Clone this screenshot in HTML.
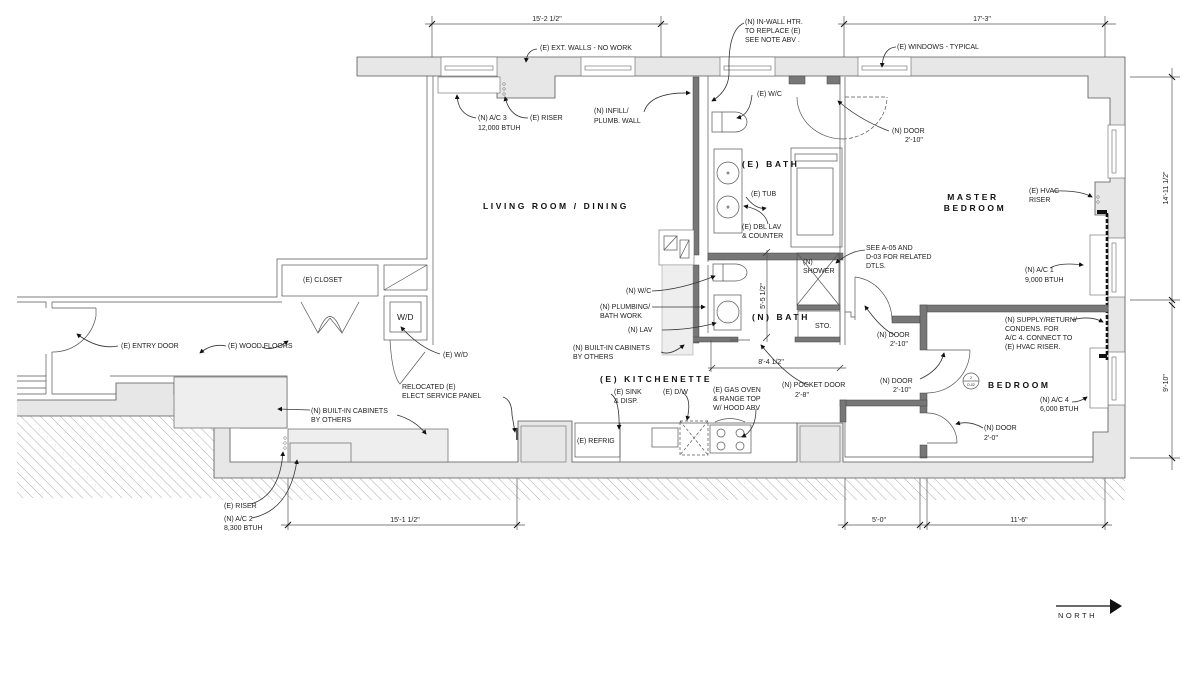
<!DOCTYPE html>
<html><head><meta charset="utf-8"><style>
html,body{margin:0;padding:0;background:#fff;}
svg{display:block;}
text{font-family:"Liberation Sans",sans-serif;font-size:7px;fill:#222;}
.b{font-weight:bold;font-size:8.5px;letter-spacing:2.6px;fill:#111;}
.l{fill:none;stroke:#333;stroke-width:0.8;}
.t{fill:none;stroke:#555;stroke-width:0.7;}
.dk{fill:#777;stroke:#444;stroke-width:0.5;}
.lg{fill:#eee;stroke:#666;stroke-width:0.7;}
</style></head><body>
<svg width="1200" height="674" viewBox="0 0 1200 674" xmlns="http://www.w3.org/2000/svg">
<defs>
<pattern id="h" patternUnits="userSpaceOnUse" width="7" height="7" patternTransform="rotate(-45)">
<line x1="0" y1="0" x2="0" y2="7" stroke="#888" stroke-width="0.7"/></pattern>
<marker id="a" markerWidth="6" markerHeight="6" refX="5" refY="3" orient="auto"><path d="M0,0 L6,3 L0,6z" fill="#111"/></marker>
</defs>

<!-- hatching -->
<rect x="17" y="416" width="197" height="82" fill="url(#h)"/>
<rect x="214" y="478" width="911" height="22" fill="url(#h)"/>

<!-- exterior gray wall -->
<polygon points="357,57 1125,57 1125,478 214,478 214,416 17,416 17,76 357,76" fill="#e7e7e7"/>
<polygon points="17,76 357,76 497,76 497,98 555,98 555,76 1088,76 1088,98 1110,98 1110,182 1095,182 1095,215 1108,215 1108,432 1093,432 1093,462 843,462 843,423 797,423 797,462 572,462 572,421 518,421 518,462 230,462 230,394 174,394 174,383 116,383 116,400 17,400" fill="#fff"/>
<rect x="0" y="0" width="356" height="75.5" fill="#fff"/>
<polyline points="357,76 357,57 1125,57 1125,478 214,478 214,416 17,416" fill="none" stroke="#555" stroke-width="0.8"/>
<polyline points="357,76 497,76 497,98 555,98 555,76 1088,76 1088,98 1110,98 1110,182 1095,182 1095,215 1108,215 1108,432 1093,432 1093,462 843,462 843,423 797,423 797,462 572,462 572,421 518,421 518,462 230,462 230,394 174,394 174,383 116,383 116,400 17,400" fill="none" stroke="#555" stroke-width="0.8"/>
<rect x="521" y="426" width="45" height="36" fill="#e7e7e7" stroke="#666" stroke-width="0.6"/>
<rect x="800" y="426" width="40" height="36" fill="#e7e7e7" stroke="#666" stroke-width="0.6"/>

<!-- windows -->
<g fill="#fff" stroke="#666" stroke-width="0.6">
<rect x="441" y="57" width="56" height="19"/><rect x="445" y="66" width="48" height="4"/>
<rect x="581" y="57" width="54" height="19"/><rect x="585" y="66" width="46" height="4"/>
<rect x="720" y="57" width="55" height="19"/><rect x="724" y="66" width="47" height="4"/>
<rect x="858" y="57" width="53" height="19"/><rect x="862" y="66" width="45" height="4"/>
<rect x="1108" y="125" width="17" height="53"/><rect x="1112" y="130" width="4" height="43"/>
<rect x="1108" y="238" width="17" height="59"/><rect x="1112" y="243" width="4" height="49"/>
<rect x="1108" y="352" width="17" height="53"/><rect x="1112" y="357" width="4" height="43"/>
</g>
<rect x="438" y="77" width="62" height="16" fill="#fff" stroke="#666" stroke-width="0.6"/>
<rect x="1090" y="235" width="18" height="60" fill="#fff" stroke="#666" stroke-width="0.6"/>
<rect x="1090" y="348" width="18" height="60" fill="#fff" stroke="#666" stroke-width="0.6"/>
<g fill="none" stroke="#666" stroke-width="0.5"><circle cx="504" cy="84" r="1.3"/><circle cx="504" cy="89" r="1.3"/><circle cx="504" cy="94" r="1.3"/>
<circle cx="1098" cy="197" r="1.3"/><circle cx="1098" cy="202" r="1.3"/><circle cx="285" cy="438" r="1.3"/><circle cx="285" cy="443" r="1.3"/><circle cx="285" cy="448" r="1.3"/></g>
<line x1="1107" y1="213" x2="1107" y2="360" stroke="#111" stroke-width="2.6" stroke-dasharray="4,2"/>
<rect x="1097" y="210" width="10" height="4" fill="#111"/>
<rect x="1099" y="354" width="8" height="4" fill="#111"/>

<!-- left hall / closet -->
<g class="t">
<polyline points="17,297 277,297 277,259 427,259 427,76"/>
<polyline points="17,302 46,302 46,308"/>
<line x1="52" y1="302" x2="282" y2="302"/>
<line x1="433" y1="76" x2="433" y2="345"/>
<rect x="282" y="265" width="96" height="31"/>
<rect x="384" y="265" width="43" height="25"/><line x1="384" y1="290" x2="427" y2="265"/>
<rect x="384" y="296" width="43" height="44"/><rect x="390" y="302" width="31" height="30"/>
<line x1="46" y1="354" x2="46" y2="394"/>
<line x1="17" y1="376" x2="46" y2="376"/><line x1="17" y1="381" x2="46" y2="381"/>
<line x1="17" y1="388" x2="46" y2="388"/><line x1="17" y1="394" x2="46" y2="394"/>
<line x1="52" y1="308" x2="96" y2="308"/><line x1="96" y1="308" x2="96" y2="316"/>
<path d="M96,316 A44,44 0 0 1 52,352"/>
<line x1="52" y1="302" x2="52" y2="308"/><line x1="52" y1="352" x2="52" y2="394"/>
<line x1="52" y1="394" x2="116" y2="394"/>
<path d="M301,302 L318,333 L330,318 L342,333 L359,302"/>
<path d="M318,333 Q330,300 342,333"/>
<path d="M390,340 Q392,375 400,384 L425,352"/>
<polyline points="110,376 287,376 287,428 240,428 240,420"/>
</g>
<rect x="174" y="377" width="113" height="51" class="lg"/>
<rect x="288" y="429" width="160" height="33" class="lg"/>
<rect x="290" y="443" width="61" height="19" class="lg"/>
<line x1="517" y1="428" x2="517" y2="440" stroke="#555" stroke-width="2"/>

<!-- bath walls -->
<rect x="693" y="77" width="6" height="178" class="dk"/>
<rect x="693" y="265" width="6" height="78" class="dk"/>
<rect x="693" y="337" width="45" height="5" class="dk"/>
<line x1="708" y1="76" x2="708" y2="262" class="t"/>
<rect x="659" y="230" width="35" height="35" fill="#fff" stroke="#666" stroke-width="0.6"/>
<rect x="664" y="236" width="13" height="14" class="t"/><line x1="664" y1="250" x2="677" y2="236" class="t"/>
<rect x="680" y="240" width="9" height="18" class="t"/><line x1="680" y1="258" x2="689" y2="240" class="t"/>
<rect x="662" y="265" width="31" height="90" fill="#eee" stroke="#999" stroke-width="0.5"/>
<line x1="708" y1="265" x2="708" y2="333" class="t"/>
<rect x="708" y="253" width="135" height="7" class="dk"/>
<line x1="840" y1="77" x2="840" y2="345" class="t"/><line x1="845" y1="77" x2="845" y2="345" class="t"/>
<rect x="789" y="76" width="16" height="8" class="dk"/><rect x="827" y="76" width="13" height="8" class="dk"/>
<rect x="712" y="112" width="10" height="20" class="t"/><path d="M722,112 L735,112 A12,10 0 0 1 735,132 L722,132" class="t"/>
<rect x="714" y="149" width="28" height="84" class="t"/>
<circle cx="728" cy="173" r="11" class="t"/><circle cx="728" cy="207" r="11" class="t"/>
<circle cx="728" cy="173" r="1" class="t"/><circle cx="728" cy="207" r="1" class="t"/>
<rect x="791" y="148" width="51" height="99" class="t"/><rect x="797" y="168" width="36" height="67" class="t"/>
<rect x="795" y="154" width="42" height="7" class="t"/>
<rect x="713" y="264" width="10" height="17" class="t"/><path d="M723,264 L735,264 A12,8.5 0 0 1 735,281 L723,281" class="t"/>
<rect x="714" y="295" width="27" height="35" class="t"/><circle cx="728" cy="312" r="11" class="t"/>
<rect x="797" y="253" width="42" height="52" class="t"/><path d="M797,253 L839,305 M839,253 L797,305" class="t"/>
<rect x="797" y="305" width="43" height="5" class="dk"/>
<rect x="798" y="311" width="42" height="27" class="t"/>
<rect x="795" y="337" width="45" height="5" class="dk"/>
<line x1="730" y1="340" x2="750" y2="340" class="t"/>
<line x1="711" y1="340" x2="711" y2="372" class="t"/>
<line x1="767" y1="250" x2="767" y2="342" class="t"/>
<line x1="763" y1="256" x2="770" y2="249" class="l"/><line x1="763" y1="341" x2="770" y2="334" class="l"/>
<text transform="translate(765,296) rotate(-90)" text-anchor="middle">5'-5 1/2"</text>
<line x1="708" y1="368" x2="846" y2="368" class="t"/>
<line x1="709" y1="371" x2="715" y2="365" class="l"/><line x1="837" y1="371" x2="843" y2="365" class="l"/>
<text x="771" y="364" text-anchor="middle">8'-4 1/2"</text>

<!-- doors -->
<path d="M797,97 A46,42 0 0 0 843,139" class="t"/>
<path d="M843,139 A46,42 0 0 0 887,97" class="t" stroke-dasharray="4,2"/>
<line x1="845" y1="97" x2="887" y2="97" class="t" stroke-dasharray="4,2"/>
<polyline points="845,312 851,312 851,317 855,317" class="t"/>
<path d="M855,277 A42,44 0 0 1 892,320" class="t"/><line x1="855" y1="277" x2="855" y2="320" class="t"/>
<rect x="892" y="316" width="28" height="7" class="dk"/>
<rect x="920" y="305" width="188" height="7" class="dk"/>
<rect x="920" y="305" width="7" height="45" class="dk"/>
<line x1="927" y1="350" x2="970" y2="350" class="t"/>
<path d="M970,350 A43,43 0 0 1 927,393" class="t"/>
<rect x="920" y="393" width="7" height="20" class="dk"/>
<rect x="840" y="400" width="87" height="6" class="dk"/>
<rect x="840" y="400" width="6" height="22" class="dk"/>
<line x1="927" y1="443" x2="957" y2="443" class="t"/>
<path d="M927,413 A30,30 0 0 1 957,443" class="t"/>
<rect x="920" y="445" width="7" height="13" class="dk"/>
<polyline points="845,422 845,457 1093,457" class="t"/>
<circle cx="971" cy="381" r="8" class="t"/><line x1="963" y1="381" x2="979" y2="381" class="t"/>
<text x="971" y="379" text-anchor="middle" style="font-size:3.5px">2</text>
<text x="971" y="386" text-anchor="middle" style="font-size:3.5px">D-02</text>

<!-- kitchen -->
<rect x="575" y="423" width="45" height="34" class="t"/>
<line x1="620" y1="423" x2="797" y2="423" class="t"/><line x1="620" y1="423" x2="620" y2="462" class="t"/>
<rect x="652" y="428" width="26" height="19" class="t"/>
<rect x="680" y="421" width="28" height="34" class="t" stroke-dasharray="3,2"/><path d="M680,421 L708,455 M708,421 L680,455" class="t" stroke-dasharray="3,2"/>
<rect x="710" y="425" width="41" height="28" class="t"/>
<g class="t"><circle cx="721" cy="433" r="4"/><circle cx="740" cy="433" r="4"/><circle cx="721" cy="446" r="4"/><circle cx="740" cy="446" r="4"/></g>
<path d="M715,422 Q730,415 745,422" class="t"/>

<!-- dimensions -->
<g class="t">
<line x1="425" y1="24" x2="668" y2="24"/><line x1="432" y1="16" x2="432" y2="57"/><line x1="661" y1="16" x2="661" y2="57"/>
<line x1="838" y1="24" x2="1116" y2="24"/><line x1="844" y1="16" x2="844" y2="57"/><line x1="1105" y1="16" x2="1105" y2="57"/>
<line x1="1172" y1="68" x2="1172" y2="470"/>
<line x1="1130" y1="77" x2="1180" y2="77"/><line x1="1130" y1="300" x2="1180" y2="300"/><line x1="1130" y1="458" x2="1180" y2="458"/>
<line x1="281" y1="525" x2="525" y2="525"/><line x1="288" y1="478" x2="288" y2="530"/><line x1="517" y1="478" x2="517" y2="530"/>
<line x1="838" y1="525" x2="1112" y2="525"/><line x1="845" y1="478" x2="845" y2="530"/><line x1="920" y1="478" x2="920" y2="530"/><line x1="927" y1="478" x2="927" y2="530"/><line x1="1105" y1="478" x2="1105" y2="530"/>
</g>
<g stroke="#111" stroke-width="1">
<line x1="429" y1="27" x2="435" y2="21"/><line x1="658" y1="27" x2="664" y2="21"/>
<line x1="841" y1="27" x2="847" y2="21"/><line x1="1102" y1="27" x2="1108" y2="21"/>
<line x1="1169" y1="74" x2="1175" y2="80"/><line x1="1169" y1="297" x2="1175" y2="303"/><line x1="1169" y1="302" x2="1175" y2="308"/><line x1="1169" y1="455" x2="1175" y2="461"/>
<line x1="285" y1="528" x2="291" y2="522"/><line x1="514" y1="528" x2="520" y2="522"/>
<line x1="842" y1="528" x2="848" y2="522"/><line x1="917" y1="528" x2="923" y2="522"/><line x1="924" y1="528" x2="930" y2="522"/><line x1="1102" y1="528" x2="1108" y2="522"/>
</g>
<g style="font-size:8px">
<text x="547" y="21" text-anchor="middle">15'-2 1/2"</text>
<text x="982" y="21" text-anchor="middle">17'-3"</text>
<text x="405" y="522" text-anchor="middle">15'-1 1/2"</text>
<text x="879" y="522" text-anchor="middle">5'-0"</text>
<text x="1019" y="522" text-anchor="middle">11'-6"</text>
<text transform="translate(1168,188) rotate(-90)" text-anchor="middle">14'-11 1/2"</text>
<text transform="translate(1168,383) rotate(-90)" text-anchor="middle">9'-10"</text>
</g>

<line x1="1056" y1="606" x2="1111" y2="606" stroke="#111" stroke-width="1.2"/>
<polygon points="1110,599 1122,606 1110,614" fill="#111"/>
<text x="1058" y="618" style="font-size:7.5px;letter-spacing:2.5px">NORTH</text>

<!-- leaders -->
<g class="l" marker-end="url(#a)">
<path d="M537,49 Q527,50 526,62"/>
<path d="M744,23 Q728,30 729,70 Q730,90 712,101"/>
<path d="M896,47 Q883,48 882,67"/>
<path d="M476,118 Q458,115 457,95"/>
<path d="M528,118 Q510,118 505,97"/>
<path d="M644,112 Q650,92 690,93"/>
<path d="M752,95 Q750,115 737,118"/>
<path d="M889,131 Q860,120 838,101"/>
<path d="M746,197 Q756,210 766,208"/>
<path d="M768,224 Q765,210 744,206"/>
<path d="M1053,191 Q1080,190 1092,197"/>
<path d="M865,250 Q850,251 836,263"/>
<path d="M1050,268 Q1060,262 1083,265"/>
<path d="M652,291 Q680,290 715,276"/>
<path d="M652,307 L705,307"/>
<path d="M662,330 Q690,330 716,323"/>
<path d="M661,352 Q670,356 684,345"/>
<path d="M1072,320 Q1090,315 1103,322"/>
<path d="M895,335 Q882,330 865,306"/>
<path d="M920,379 Q940,370 944,353"/>
<path d="M1072,402 Q1080,402 1087,397"/>
<path d="M983,428 Q970,420 956,424"/>
<path d="M809,385 Q790,380 761,345"/>
<path d="M118,346 Q98,350 77,334"/>
<path d="M226,346 Q212,343 200,353"/>
<path d="M262,347 Q272,352 288,341"/>
<path d="M440,354 Q420,348 401,327"/>
<path d="M503,397 Q512,400 512,415 L515,432"/>
<path d="M310,410 L278,409"/>
<path d="M397,415 Q415,420 426,434"/>
<path d="M611,394 Q620,400 619,429"/>
<path d="M683,393 Q692,398 687,420"/>
<path d="M756,409 Q756,430 742,437"/>
<path d="M251,504 Q280,495 283,452"/>
<path d="M252,518 Q290,510 297,460"/>
</g>

<!-- labels -->
<text x="540" y="50">(E) EXT. WALLS - NO WORK</text>
<text x="745" y="24">(N) IN-WALL HTR.</text><text x="745" y="33">TO REPLACE (E)</text><text x="745" y="42">SEE NOTE ABV .</text>
<text x="897" y="49">(E) WINDOWS - TYPICAL</text>
<text x="478" y="120">(N) A/C 3</text><text x="478" y="130">12,000 BTUH</text>
<text x="530" y="120">(E) RISER</text>
<text x="594" y="113">(N) INFILL/</text><text x="594" y="123">PLUMB. WALL</text>
<text x="757" y="96">(E) W/C</text>
<text x="892" y="133">(N) DOOR</text><text x="905" y="142">2'-10"</text>
<text x="742" y="167" class="b">(E) BATH</text>
<text x="751" y="196">(E) TUB</text>
<text x="742" y="229">(E) DBL LAV</text><text x="742" y="238">&amp; COUNTER</text>
<text x="483" y="209" class="b">LIVING ROOM / DINING</text>
<text x="973" y="200" class="b" text-anchor="middle">MASTER</text><text x="975" y="211" class="b" text-anchor="middle">BEDROOM</text>
<text x="1029" y="193">(E) HVAC</text><text x="1029" y="202">RISER</text>
<text x="866" y="250">SEE A-05 AND</text><text x="866" y="259">D-03 FOR RELATED</text><text x="866" y="268">DTLS.</text>
<text x="803" y="264">(N)</text><text x="803" y="273">SHOWER</text>
<text x="1025" y="272">(N) A/C 1</text><text x="1025" y="282">9,000 BTUH</text>
<text x="626" y="293">(N) W/C</text>
<text x="600" y="309">(N) PLUMBING/</text><text x="600" y="318">BATH WORK</text>
<text x="628" y="332">(N) LAV</text>
<text x="573" y="350">(N) BUILT-IN CABINETS</text><text x="573" y="359">BY OTHERS</text>
<text x="752" y="320" class="b">(N) BATH</text>
<text x="815" y="328">STO.</text>
<text x="877" y="337">(N) DOOR</text><text x="890" y="346">2'-10"</text>
<text x="1005" y="322">(N) SUPPLY/RETURN/</text><text x="1005" y="331">CONDENS. FOR</text><text x="1005" y="340">A/C 4.  CONNECT TO</text><text x="1005" y="349">(E) HVAC RISER.</text>
<text x="303" y="282">(E) CLOSET</text>
<text x="397" y="320" style="font-size:8.5px">W/D</text>
<text x="121" y="348">(E) ENTRY DOOR</text>
<text x="228" y="348">(E) WOOD FLOORS</text>
<text x="443" y="357">(E) W/D</text>
<text x="402" y="389">RELOCATED (E)</text><text x="402" y="398">ELECT SERVICE PANEL</text>
<text x="311" y="413">(N) BUILT-IN CABINETS</text><text x="311" y="422">BY OTHERS</text>
<text x="600" y="382" class="b">(E) KITCHENETTE</text>
<text x="782" y="387">(N) POCKET DOOR</text><text x="795" y="397">2'-8"</text>
<text x="880" y="383">(N) DOOR</text><text x="893" y="392">2'-10"</text>
<text x="988" y="388" class="b">BEDROOM</text>
<text x="1040" y="402">(N) A/C 4</text><text x="1040" y="411">6,000 BTUH</text>
<text x="614" y="394">(E) SINK</text><text x="614" y="403">&amp; DISP.</text>
<text x="663" y="394">(E) D/W</text>
<text x="713" y="392">(E) GAS OVEN</text><text x="713" y="401">&amp; RANGE TOP</text><text x="713" y="410">W/ HOOD ABV</text>
<text x="984" y="430">(N) DOOR</text><text x="984" y="440">2'-0"</text>
<text x="577" y="443">(E) REFRIG</text>
<text x="224" y="508">(E) RISER</text>
<text x="224" y="521">(N) A/C 2</text><text x="224" y="530">8,300 BTUH</text>
</svg>
</body></html>
